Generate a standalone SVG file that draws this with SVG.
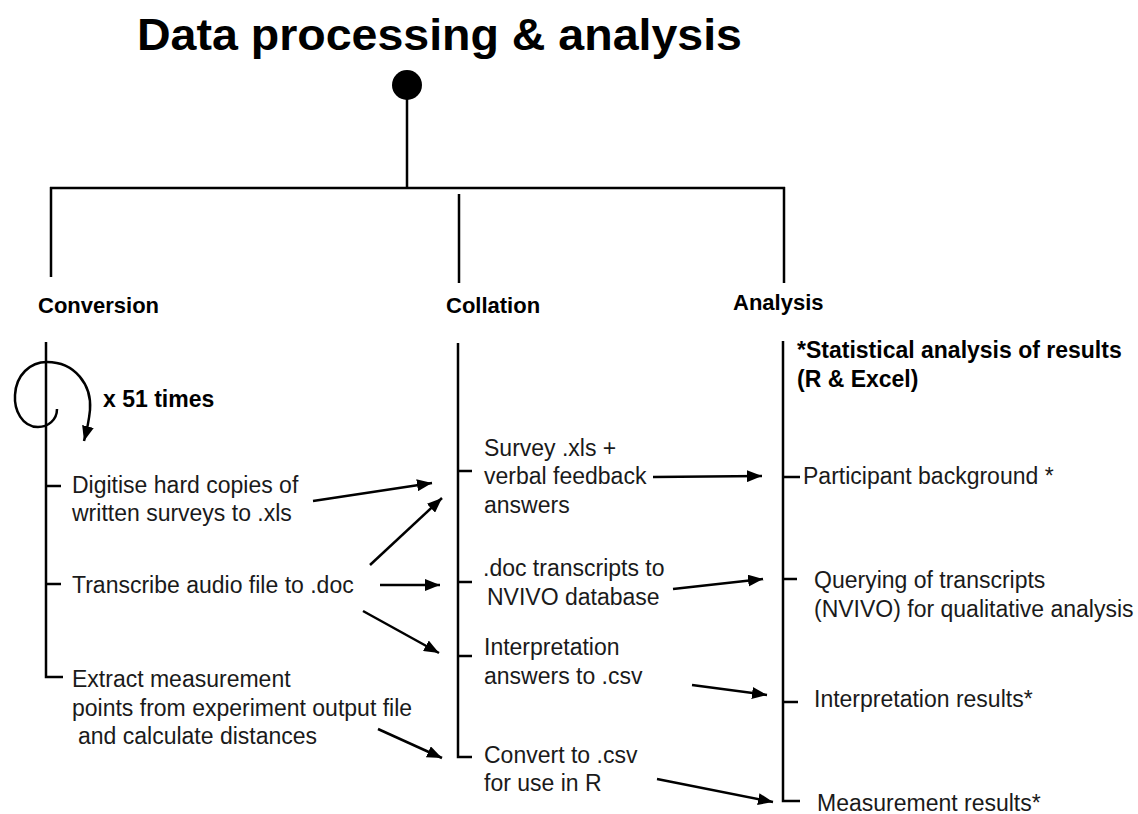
<svg xmlns="http://www.w3.org/2000/svg" width="1138" height="814" viewBox="0 0 1138 814">
  <style>
    .ln { stroke: #000; stroke-width: 2.5; fill: none; }
    .ar { stroke: #000; stroke-width: 2.5; fill: none; marker-end: url(#head); }
    .title { font-family: "Liberation Sans", Arial, sans-serif; font-weight: bold; font-size: 45px; fill: #000; }
    .hd { font-family: "Liberation Sans", Arial, sans-serif; font-weight: bold; font-size: 22px; fill: #000; }
    .bd { font-family: "Liberation Sans", Arial, sans-serif; font-weight: bold; font-size: 23px; fill: #000; }
    .tx { font-family: "Liberation Sans", Arial, sans-serif; font-size: 23px; fill: #1a1a1a; }
  </style>
  <defs>
    <marker id="head" markerUnits="userSpaceOnUse" markerWidth="16" markerHeight="12" refX="15" refY="6" orient="auto">
      <path d="M0,0 L15,6 L0,12 z" fill="#000"/>
    </marker>
  </defs>
  <rect width="1138" height="814" fill="#fff"/>

  <text class="title" x="137" y="50" textLength="605" lengthAdjust="spacingAndGlyphs">Data processing &amp; analysis</text>

  <!-- root of the tree -->
  <g id="root">
    <circle cx="407" cy="85" r="15" fill="#000"/>
    <path class="ln" d="M407,98 V188 M50,188 H785 M51,187 V277 M459,194 V283 M784,187 V283"/>
  </g>

  <!-- Conversion branch -->
  <g id="conversion">
    <text class="hd" x="38" y="313">Conversion</text>
    <path class="ln" d="M46,342 V677 H63 M46,486 H61 M46,584 H61"/>
    <text class="bd" x="103" y="407">x 51 times</text>
    <text class="tx" x="72" y="493">Digitise hard copies of</text>
    <text class="tx" x="72" y="521">written surveys to .xls</text>
    <text class="tx" x="72" y="593">Transcribe audio file to .doc</text>
    <text class="tx" x="72" y="687">Extract measurement</text>
    <text class="tx" x="72" y="716">points from experiment output file</text>
    <text class="tx" x="78" y="744">and calculate distances</text>
  </g>

  <!-- Collation branch -->
  <g id="collation">
    <text class="hd" x="446" y="313">Collation</text>
    <path class="ln" d="M458,343 V757 H472 M458,471 H472 M458,582 H472 M458,656 H472"/>
    <text class="tx" x="484" y="456">Survey .xls +</text>
    <text class="tx" x="484" y="484">verbal feedback</text>
    <text class="tx" x="484" y="513">answers</text>
    <text class="tx" x="483" y="576">.doc transcripts to</text>
    <text class="tx" x="487" y="605">NVIVO database</text>
    <text class="tx" x="484" y="655">Interpretation</text>
    <text class="tx" x="484" y="684">answers to .csv</text>
    <text class="tx" x="484" y="763">Convert to .csv</text>
    <text class="tx" x="484" y="791">for use in R</text>
  </g>

  <!-- Analysis branch -->
  <g id="analysis">
    <text class="hd" x="733" y="310">Analysis</text>
    <path class="ln" d="M783,341 V801 H800 M783,477 H800 M783,579 H797 M783,702 H798"/>
    <text class="bd" x="797" y="358">*Statistical analysis of results</text>
    <text class="bd" x="797" y="387">(R &amp; Excel)</text>
    <text class="tx" x="803" y="484">Participant background *</text>
    <text class="tx" x="814" y="588">Querying of transcripts</text>
    <text class="tx" x="814" y="617">(NVIVO) for qualitative analysis</text>
    <text class="tx" x="814" y="707">Interpretation results*</text>
    <text class="tx" x="817" y="811">Measurement results*</text>
  </g>

  <!-- connectors -->
  <g id="connectors">
    <path class="ar" d="M57,409 C57,420 48,427 38,427 C22,427 14,410 15,395 C16,375 30,362 47,362 C75,362 92,385 90,410 C89,420 87,430 84,441"/>
    <path class="ar" d="M313,501 L432,483"/>
    <path class="ar" d="M370,565 L442,498"/>
    <path class="ar" d="M380,585 L440,585"/>
    <path class="ar" d="M363,611 L439,653"/>
    <path class="ar" d="M378,729 L442,758"/>
    <path class="ar" d="M653,477 L762,476"/>
    <path class="ar" d="M673,589 L763,579"/>
    <path class="ar" d="M692,685 L767,695"/>
    <path class="ar" d="M657,779 L773,802"/>
  </g>
</svg>
